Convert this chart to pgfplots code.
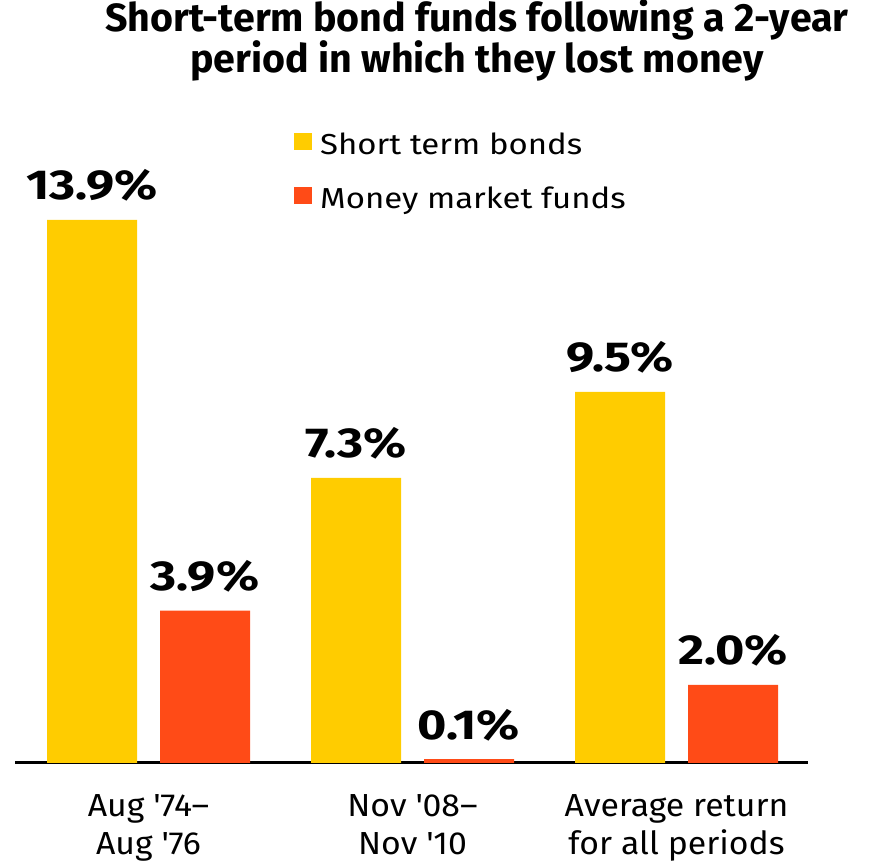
\documentclass[border=0pt]{standalone}
\usepackage{pgfplots}
\pgfplotsset{compat=1.18}
\usepackage{fontspec}
\setmainfont{Fira Sans}
\newfontfamily\valfont{Fira Sans}[FakeStretch=1.2]
\newfontfamily\legfont{Fira Sans}[FakeStretch=1.14]
\newfontfamily\tickfont{Fira Sans}[FakeStretch=1.06]
\definecolor{ycol}{HTML}{FFCC00}
\definecolor{rcol}{HTML}{FF4B17}
\begin{document}
\begin{tikzpicture}[x=1bp,y=1bp]
\path[use as bounding box] (0,0) rectangle (870,862);
\node[anchor=base, inner sep=0pt, font=\bfseries\fontsize{39.5}{41}\selectfont] at (477,830) {Short-term bond funds following a 2-year};
\node[anchor=base, inner sep=0pt, font=\bfseries\fontsize{39.5}{41}\selectfont] at (477,789) {period in which they lost money};
\begin{axis}[
  at={(15bp,99bp)}, anchor=south west,
  scale only axis, width=793bp, height=543bp,
  xmin=-0.5057, xmax=2.4981, ymin=0, ymax=13.9,
  ybar, bar width=90bp,
  axis x line*=bottom, axis y line=none,
  x axis line style={line width=3bp, -, black},
  xtick={0,1,2}, major tick length=0pt,
  xticklabels={Aug \textquotesingle 74–\\Aug \textquotesingle 76, Nov \textquotesingle 08–\\Nov \textquotesingle 10, Average return\\for all periods},
  xticklabel style={align=center, anchor=north, yshift=-28bp, font=\tickfont\fontsize{32}{38}\selectfont},
  clip=false,
  nodes near coords={\pgfmathprintnumber{\pgfplotspointmeta}\%},
  nodes near coords style={font=\valfont\bfseries\fontsize{42}{42}\selectfont, anchor=base, yshift=20bp, inner sep=0pt,
    /pgf/number format/.cd, fixed, fixed zerofill, precision=1, assume math mode=true},
  legend style={draw=none, fill=none, at={(0.3518,1.16)}, anchor=north west, inner sep=0pt,
    font=\legfont\fontsize{29}{29}\selectfont, row sep=27bp, column sep=8bp,
    nodes={inner sep=0pt, text height=20bp, text depth=6bp}},
  legend cell align=left,
  legend image code/.code={\fill[#1] (0bp,-3bp) rectangle (18bp,14bp);},
]
\addplot[fill=ycol, draw=none, bar shift=-56.5bp] coordinates {(0,13.9) (1,7.3) (2,9.5)};
\addlegendentry{Short term bonds}
\addplot[fill=rcol, draw=none, bar shift=56.5bp] coordinates {(0,3.9) (1,0.1) (2,2.0)};
\addlegendentry{Money market funds}
\end{axis}
\end{tikzpicture}
\end{document}
